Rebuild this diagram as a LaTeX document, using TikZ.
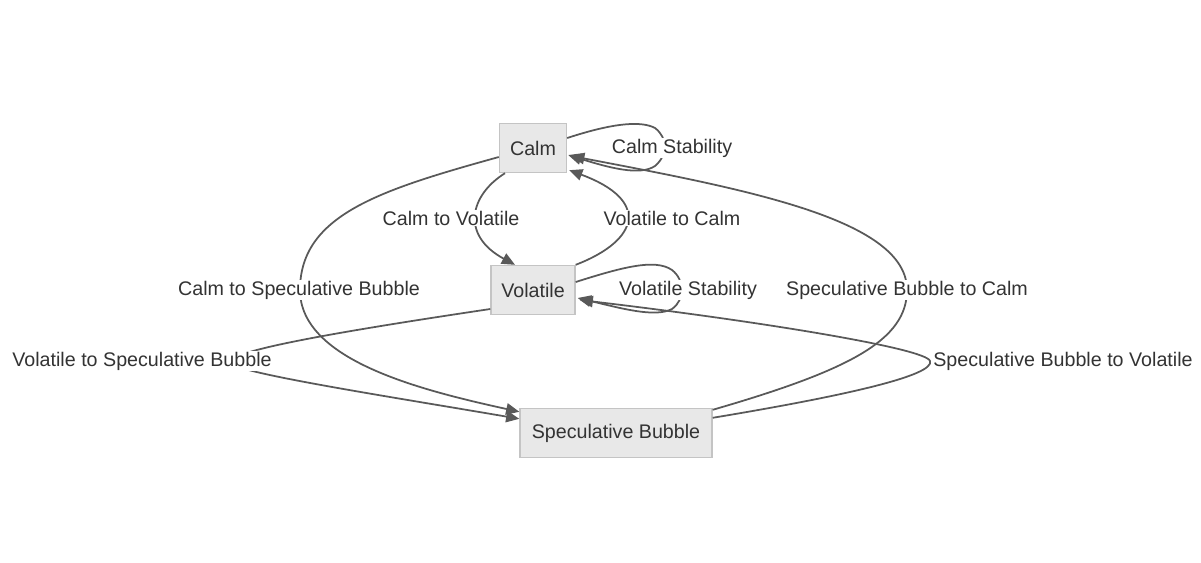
\documentclass[tikz,border=0pt]{standalone}
\usepackage{fontspec}
\setmainfont{Liberation Sans}
\usetikzlibrary{calc,arrows.meta}
\definecolor{boxfill}{HTML}{E8E8E8}
\definecolor{boxline}{HTML}{C4C4C4}
\definecolor{edgecol}{HTML}{595959}
\definecolor{txt}{HTML}{333333}
\begin{document}
\begin{tikzpicture}[x=0.02cm,y=-0.02cm,
  font=\fontsize{11.2pt}{13pt}\selectfont,
  state/.style={draw=boxline, line width=0.8pt, fill=boxfill, text=txt, minimum height=0.98cm, inner sep=0pt},
  edge/.style={draw=edgecol, line width=1pt, -{Triangle[length=7.5pt,width=6.5pt]}},
  lbl/.style={fill=white, text=txt, inner sep=0.6pt}]
\useasboundingbox (0,0) rectangle (1201,562);

\node[state, minimum width=1.34cm] (calm) at (533,148) {Calm};
\node[state, minimum width=1.68cm] (vol) at (533,290) {Volatile};
\node[state, minimum width=3.84cm] (sb) at (616,433) {Speculative Bubble};

% Calm self loop
\draw[edge] ($(calm.east)+(0,-10)$) .. controls (610,124) and (640,120) .. (655,128)
  .. controls (668,138) and (668,155) .. (655,166)
  .. controls (640,176) and (610,168) .. ($(calm.east)+(1,7)$);
% Calm to Volatile
\draw[edge] ($(calm.south)+(-28,0)$) .. controls (470,195) and (460,235) .. ($(vol.north)+(-18,0)$);
% Volatile to Calm
\draw[edge] (vol.north east) .. controls (640,240) and (650,200) .. ($(calm.south east)+(2,-3)$);
% Calm to Speculative Bubble
\draw[edge] ($(calm.west)+(0,9)$) .. controls (380,190) and (300,215) .. (300,290)
  .. controls (300,360) and (420,390) .. ($(sb.north west)+(0,4)$);
% Volatile self loop
\draw[edge] ($(vol.east)+(0,-8)$) .. controls (620,268) and (655,258) .. (672,270)
  .. controls (685,280) and (685,300) .. (672,309)
  .. controls (655,318) and (620,308) .. ($(vol.east)+(2,8)$);
% Volatile to Speculative Bubble
\draw[edge] ($(vol.west)+(0,19)$) .. controls (350,330) and (230,350) .. (230,362)
  .. controls (230,372) and (380,395) .. ($(sb.north west)+(0,11)$);
% Speculative Bubble to Calm
\draw[edge] ($(sb.north east)+(0,2)$) .. controls (850,370) and (907,340) .. (907,290)
  .. controls (907,220) and (750,190) .. ($(calm.east)+(4,8)$);
% Speculative Bubble to Volatile
\draw[edge] ($(sb.north east)+(0,10)$) .. controls (850,395) and (935,375) .. (930,361)
  .. controls (926,348) and (750,320) .. ($(vol.east)+(4,10)$);

% edge labels
\node[lbl] (l1) at (672,148) {Calm Stability};
\node[lbl] (l2) at (451,218) {Calm to Volatile};
\node[lbl] (l3) at (672,218) {Volatile to Calm};
\node[lbl] (l4) at (299,290) {Calm to Speculative Bubble};
\node[lbl] (l5) at (688,290) {Volatile Stability};
\node[lbl] (l6) at (907,290) {Speculative Bubble to Calm};
\node[lbl] (l7) at (142,361) {Volatile to Speculative Bubble};
\node[lbl] (l8) at (1063,361) {Speculative Bubble to Volatile};
\end{tikzpicture}
\end{document}
